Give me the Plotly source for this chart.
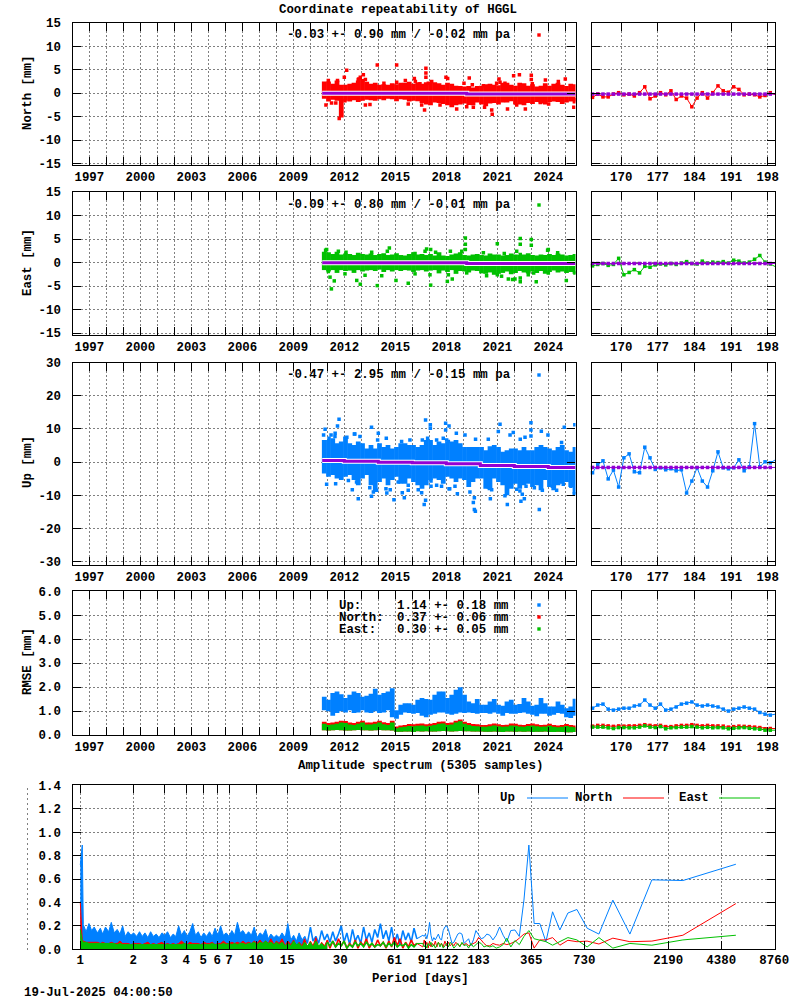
import plotly.graph_objects as go

# time axis
years = list(range(1996, 2026))
year_labels = ["", "1997", "", "", "2000", "", "", "2003", "", "", "2006", "", "", "2009", "", "",
               "2012", "", "", "2015", "", "", "2018", "", "", "2021", "", "", "2024", ""]
doy_ticks = [170, 177, 184, 191, 198]

band_years = [2010.82, 2011.07, 2011.32, 2011.57, 2011.82, 2012.07, 2012.32, 2012.57, 2012.82, 2013.07,
              2013.32, 2013.57, 2013.82, 2014.07, 2014.32, 2014.57, 2014.82, 2015.07, 2015.32, 2015.57,
              2015.82, 2016.07, 2016.32, 2016.57, 2016.82, 2017.07, 2017.32, 2017.57, 2017.82, 2018.07,
              2018.32, 2018.57, 2018.82, 2019.07, 2019.32, 2019.57, 2019.82, 2020.07, 2020.32, 2020.57,
              2020.82, 2021.07, 2021.32, 2021.57, 2021.82, 2022.07, 2022.32, 2022.57, 2022.82, 2023.07,
              2023.32, 2023.57, 2023.82, 2024.07, 2024.32, 2024.57, 2024.82, 2025.07, 2025.32, 2025.57]

# north
north_hi = [2.5, 2.5, 2.0, 2.7, 1.8, 1.8, 2.0, 2.2, 2.7, 3.0,
            2.4, 2.0, 2.2, 1.8, 1.9, 1.8, 2.1, 1.9, 2.2, 2.2,
            2.4, 2.0, 2.3, 2.0, 2.3, 2.2, 2.3, 2.1, 1.8, 2.2,
            2.0, 1.6, 1.5, 1.4, 1.5, 1.2, 1.5, 1.6, 1.9, 2.0,
            1.8, 1.7, 2.2, 2.2, 1.8, 1.6, 2.2, 2.1, 1.6, 1.9,
            1.4, 1.6, 2.1, 1.6, 2.0, 2.2, 1.8, 1.5, 2.0, 1.9]
north_lo = [-1.2, -1.8, -1.4, -1.6, -5.2, -1.6, -1.8, -1.5, -1.9, -1.6,
            -1.4, -1.5, -1.6, -1.3, -1.5, -1.2, -1.3, -1.7, -1.3, -1.4,
            -1.8, -1.6, -1.7, -2.1, -2.4, -2.6, -2.0, -2.1, -2.3, -2.6,
            -3.0, -2.6, -2.4, -2.2, -2.5, -2.6, -2.0, -2.4, -2.8, -2.2,
            -2.1, -2.4, -2.0, -2.0, -1.7, -2.4, -2.4, -2.6, -2.1, -2.3,
            -1.9, -2.2, -2.4, -1.9, -1.8, -1.9, -2.3, -2.0, -1.8, -2.2]
north_out_x = [2010.92, 2011.25, 2011.5, 2011.7, 2012.0, 2012.14, 2012.82, 2012.94, 2013.12, 2013.24,
               2013.24, 2013.94, 2015.08, 2016.12, 2016.18, 2016.8, 2016.8, 2016.8, 2016.72, 2017.14,
               2017.98, 2018.08, 2019.35, 2019.04, 2020.7, 2021.6, 2021.96, 2022.3, 2023.0, 2023.0,
               2023.83, 2025.0, 2025.5, 2022.65, 2021.1, 2020.96, 2019.2, 2020.25,
               2011.06, 2011.6, 2012.86, 2014.33, 2015.08, 2015.59, 2016.45, 2016.94, 2019.53, 2020.18,
               2021.16, 2021.45, 2023.06, 2024.59, 2012.04, 2013.51, 2015.76, 2016.55, 2017.63, 2018.61,
               2019.59, 2020.67, 2022.14, 2023.53, 2024.02, 2025.57]
north_out_y = [-2.5, -2.1, -2.1, -5.4, 3.4, 4.9, 2.9, 3.4, 3.9, 2.9,
               -2.5, 6.0, 6.0, 3.1, 2.5, 5.3, 4.3, 3.4, -3.6, 2.5,
               3.4, 3.1, 3.2, 2.1, -4.5, -3.4, 3.7, 3.9, 3.8, 2.9,
               2.8, 3.0, -3.0, -3.4, 3.0, 2.1, -2.9, -3.0,
               2.7, 2.7, 3.0, 2.1, 2.3, 2.7, 2.0, 2.1, 1.8, 1.6,
               2.3, 2.1, 2.0, 2.5, -1.6, -2.4, -2.3, -2.5, -2.5, -3.4,
               -3.0, -3.6, -2.5, -2.0, -2.3, -1.4]
north_trend_x = [2010.7, 2019.2, 2025.6]
north_trend = [0.0, -0.2, -0.2]

# east
east_hi = [2.3, 2.2, 1.8, 2.3, 1.7, 1.9, 1.8, 1.6, 2.1, 1.8,
           1.7, 1.9, 1.6, 1.8, 2.0, 1.6, 1.7, 2.0, 1.6, 1.5,
           1.8, 2.2, 1.7, 1.8, 1.6, 1.8, 1.5, 2.2, 1.5, 1.4,
           1.7, 1.9, 2.2, 1.6, 1.5, 1.7, 1.8, 1.6, 1.5, 1.9,
           1.7, 1.7, 1.5, 1.6, 1.9, 1.7, 1.6, 1.7, 2.0, 1.6,
           1.5, 1.7, 1.6, 1.8, 1.6, 1.9, 1.7, 1.5, 1.6, 1.8]
east_lo = [-1.6, -1.9, -1.6, -2.2, -1.6, -1.8, -1.7, -2.2, -1.6, -1.9,
           -1.7, -1.6, -1.8, -1.5, -2.0, -1.6, -1.9, -1.6, -1.8, -1.6,
           -1.7, -2.0, -1.7, -1.6, -1.9, -1.7, -1.6, -2.3, -1.7, -2.0,
           -1.6, -2.4, -1.8, -1.9, -2.1, -1.7, -1.8, -2.3, -2.4, -2.1,
           -2.6, -2.4, -2.2, -1.9, -2.5, -2.2, -1.8, -2.1, -2.3, -1.9,
           -2.2, -1.8, -2.4, -2.0, -1.7, -2.1, -1.9, -2.2, -2.0, -2.4]
east_out_x = [2010.96, 2011.16, 2011.41, 2011.24, 2012.73, 2012.94, 2013.94, 2014.65, 2015.04, 2015.76,
              2016.84, 2017.08, 2017.08, 2017.37, 2018.06, 2018.35, 2018.24, 2019.12, 2019.12, 2019.12,
              2021.0, 2022.35, 2022.35, 2022.35, 2022.35, 2022.35, 2023.0, 2023.0, 2023.96, 2023.29,
              2025.06, 2021.9, 2022.04, 2021.0, 2021.25, 2023.14,
              2010.9, 2011.65, 2012.1, 2013.61, 2014.53, 2016.16, 2016.75, 2018.91, 2020.18, 2021.41,
              2022.14, 2024.0, 2024.55, 2011.06, 2012.04, 2013.22, 2014.2, 2016.16, 2017.04, 2018.12,
              2019.2, 2020.37, 2021.65, 2022.82, 2024.0, 2025.57]
east_out_y = [2.8, -3.1, -3.9, -5.6, -3.8, -4.6, -4.9, 3.1, -3.8, -4.4,
              2.9, 2.8, -4.8, 2.2, -4.0, -3.5, 2.4, 5.2, 3.9, 2.8,
              4.0, 5.1, 3.9, 1.7, -3.3, -4.1, 4.9, 3.7, 2.6, -4.1,
              -3.8, -3.6, -3.5, -2.6, -2.9, -2.2,
              2.6, 2.4, 2.2, 2.2, 2.4, 1.9, 2.4, 2.4, 2.1, 1.9,
              2.4, 2.8, 2.1, -1.9, -2.4, -2.7, -2.8, -2.4, -2.6, -2.6,
              -2.2, -2.8, -3.5, -2.6, -2.2, -2.2]
east_trend_x = [2010.7, 2019.2, 2025.6]
east_trend = [-0.05, -0.2, -0.2]

# up
up_hi = [6.7, 6.7, 7.2, 5.7, 6.2, 7.7, 5.7, 5.2, 6.2, 5.7,
         4.1, 5.2, 4.1, 5.7, 4.6, 5.2, 4.1, 4.6, 5.7, 5.7,
         5.2, 5.2, 4.6, 5.2, 6.7, 6.7, 5.2, 6.2, 5.7, 6.2,
         6.2, 6.7, 5.7, 4.6, 4.6, 4.6, 4.6, 4.6, 3.6, 4.8,
         5.2, 4.6, 3.1, 3.6, 4.1, 4.1, 3.6, 4.6, 3.6, 3.6,
         4.6, 5.2, 4.6, 4.1, 3.6, 4.6, 5.2, 3.6, 3.1, 4.6]
up_lo = [-3.4, -4.4, -3.9, -4.9, -5.4, -4.4, -3.9, -5.4, -7.0, -4.9,
         -3.9, -7.0, -9.0, -6.0, -4.9, -7.0, -5.4, -4.4, -6.5, -6.5,
         -4.9, -6.0, -7.0, -8.0, -7.0, -5.4, -4.9, -5.4, -6.5, -4.4,
         -4.9, -6.0, -4.9, -5.4, -7.5, -6.0, -4.9, -4.9, -8.0, -8.5,
         -4.9, -6.0, -7.0, -10.0, -8.0, -6.5, -8.0, -7.0, -6.5, -7.5,
         -7.0, -8.5, -5.4, -7.5, -8.5, -7.0, -6.5, -6.0, -7.5, -9.5]
up_out_x = [2011.69, 2011.6, 2011.46, 2010.87, 2012.82, 2013.6, 2012.59, 2014.0, 2014.47, 2013.6,
            2014.92, 2014.7, 2015.41, 2015.53, 2015.76, 2016.78, 2017.06, 2017.06, 2017.96, 2018.16,
            2017.96, 2016.55, 2016.78, 2016.7, 2017.1, 2018.16, 2021.16, 2022.98, 2024.94, 2025.56,
            2018.59, 2021.94, 2023.59, 2022.35, 2019.65, 2019.71, 2019.59, 2019.65, 2020.59, 2021.59,
            2023.47, 2022.39, 2022.59, 2022.47, 2018.65,
            2010.78, 2011.1, 2011.22, 2011.45, 2012.15, 2012.62, 2012.92, 2013.96, 2015.37, 2015.86,
            2016.59, 2016.9, 2017.43, 2017.82, 2018.12, 2010.96, 2011.49, 2012.24, 2012.47, 2012.72,
            2013.5, 2013.71, 2013.9, 2014.45, 2014.5, 2015.17, 2015.76, 2016.35, 2017.1, 2017.43,
            2017.72, 2018.02, 2019.1, 2019.72, 2020.47, 2021.06, 2021.75, 2022.63, 2022.98, 2022.98,
            2023.98, 2024.78, 2018.2, 2018.51, 2019.39, 2020.47, 2020.67, 2021.45, 2022.14, 2022.33,
            2022.69, 2023.18, 2023.65, 2024.24, 2024.49, 2024.88, 2025.33, 2025.53]
up_out_y = [12.9, 10.9, 8.7, 9.9, -11.0, 10.5, 8.5, 8.7, 7.2, -10.3,
            -11.3, -8.3, -9.2, -10.7, -8.5, 12.7, 11.3, 10.2, 11.7, 10.9,
            9.7, -9.2, -11.5, -12.8, -7.3, -8.0, 11.4, 11.9, 10.5, 11.3,
            8.7, 8.9, 9.3, 6.9, -14.3, -14.8, -12.2, -10.7, -11.0, -12.8,
            -14.3, -11.8, -11.0, -9.7, -9.5,
            8.2, 7.2, 8.2, 7.7, 7.5, 8.5, 7.7, 6.7, 6.2, 6.7,
            6.7, 7.2, 6.7, 7.2, 6.2, -6.7, -6.5, -5.5, -8.3, -6.0,
            -7.7, -9.0, -8.5, -8.0, -9.3, -6.0, -7.0, -8.3, -5.7, -7.0,
            -7.3, 6.7, 8.2, 6.9, 6.9, 9.2, 8.2, 7.5, 9.7, 7.9,
            8.2, 5.9, -8.0, -7.3, -9.0, -7.5, -8.3, -10.1, -8.2, -8.7,
            -7.3, -7.7, -8.5, -7.3, -8.5, -6.7, -7.3, -9.5]
up_trend_x = [2010.7, 2012, 2014, 2016, 2018, 2020, 2022, 2024, 2025.6]
up_trend = [0.5, 0.3, 0.0, -0.2, -0.5, -1.0, -1.3, -1.6, -1.6]

# rmse
rmse_up_hi = [1.60, 1.47, 1.75, 1.82, 1.70, 1.55, 1.68, 1.82, 1.75, 1.60,
              1.64, 1.72, 1.93, 1.68, 1.75, 1.82, 1.95, 1.03, 1.26, 1.33,
              1.33, 1.26, 1.47, 1.54, 1.50, 1.47, 1.68, 1.82, 1.82, 1.54,
              1.68, 1.89, 1.99, 1.68, 1.40, 1.33, 1.50, 1.26, 1.26, 1.40,
              1.50, 1.26, 1.22, 1.40, 1.47, 1.26, 1.29, 1.54, 1.40, 1.22,
              1.26, 1.54, 1.33, 1.19, 1.19, 1.40, 1.26, 1.12, 1.19, 1.51]
rmse_up_lo = [1.03, 0.99, 0.80, 0.92, 0.99, 0.94, 1.03, 0.92, 0.94, 1.03,
              0.94, 0.92, 0.99, 0.92, 0.94, 1.03, 0.74, 0.68, 0.85, 0.94,
              0.92, 0.89, 0.92, 0.80, 0.74, 0.85, 0.89, 0.94, 0.94, 0.89,
              0.85, 0.89, 0.94, 0.92, 0.94, 0.92, 0.89, 0.92, 0.92, 0.89,
              0.94, 0.89, 0.80, 0.92, 0.89, 0.89, 0.92, 0.94, 0.89, 0.85,
              0.78, 0.89, 0.89, 0.80, 0.85, 0.92, 0.89, 0.74, 0.71, 0.80]
rmse_north_hi = [0.55, 0.50, 0.52, 0.55, 0.60, 0.58, 0.52, 0.50, 0.55, 0.60,
                 0.52, 0.52, 0.55, 0.60, 0.53, 0.50, 0.60, 0.35, 0.40, 0.42,
                 0.46, 0.45, 0.47, 0.48, 0.45, 0.47, 0.50, 0.55, 0.56, 0.50,
                 0.52, 0.60, 0.65, 0.55, 0.50, 0.46, 0.45, 0.42, 0.42, 0.45,
                 0.48, 0.45, 0.42, 0.43, 0.48, 0.47, 0.43, 0.42, 0.46, 0.48,
                 0.45, 0.42, 0.43, 0.47, 0.42, 0.40, 0.42, 0.46, 0.42, 0.40]
rmse_east_hi = [0.47, 0.42, 0.44, 0.47, 0.52, 0.50, 0.44, 0.42, 0.47, 0.52,
                0.44, 0.44, 0.47, 0.52, 0.45, 0.42, 0.52, 0.28, 0.32, 0.34,
                0.38, 0.37, 0.39, 0.40, 0.37, 0.39, 0.42, 0.47, 0.48, 0.42,
                0.44, 0.52, 0.57, 0.47, 0.42, 0.38, 0.37, 0.34, 0.34, 0.37,
                0.40, 0.37, 0.34, 0.35, 0.40, 0.39, 0.35, 0.34, 0.38, 0.40,
                0.37, 0.34, 0.35, 0.39, 0.34, 0.32, 0.34, 0.38, 0.34, 0.32]
rmse_east_lo = [0.20, 0.19, 0.20, 0.21, 0.20, 0.19, 0.19, 0.20, 0.21, 0.20,
                0.20, 0.19, 0.20, 0.21, 0.20, 0.20, 0.19, 0.14, 0.14, 0.15,
                0.15, 0.13, 0.16, 0.15, 0.16, 0.15, 0.15, 0.16, 0.17, 0.16,
                0.15, 0.16, 0.17, 0.16, 0.16, 0.15, 0.15, 0.15, 0.14, 0.14,
                0.15, 0.14, 0.13, 0.15, 0.15, 0.14, 0.15, 0.14, 0.15, 0.13,
                0.14, 0.14, 0.15, 0.13, 0.13, 0.14, 0.13, 0.12, 0.12, 0.13]

# last five weeks
days = [164.5, 165.5, 166.5, 167.5, 168.5, 169.5, 170.5, 171.5, 172.5, 173.5, 174.5, 175.5,
        176.5, 177.5, 178.5, 179.5, 180.5, 181.5, 182.5, 183.5, 184.5, 185.5, 186.5, 187.5,
        188.5, 189.5, 190.5, 191.5, 192.5, 193.5, 194.5, 195.5, 196.5, 197.5, 198.5, 199.5]
north_days = [-0.9, -0.2, -0.8, -0.8, -0.2, 0.1, -0.35, -0.2, -0.6, 0.1, 1.35, -1.2,
              -0.6, 0.1, -0.35, 0.5, -1.35, -0.6, -1.05, -2.9, -1.05, 0.1, -1.05, 0.1,
              1.55, 0.5, 0.2, 1.35, 0.8, -0.35, -0.2, -0.35, -0.8, -0.5, 0.1, -0.35]
east_days = [-0.7, -0.4, -0.2, -0.6, -0.4, 0.9, -2.6, -2.1, -1.5, -2.2, -0.8, -1.0,
             -0.5, -0.3, -0.5, -0.2, -0.4, -0.1, 0.2, -0.2, -0.3, 0.3, -0.1, 0.1,
             0.0, 0.2, -0.1, 0.5, 0.3, -0.1, 0.1, 0.7, 1.5, 0.1, -0.3, -0.9]
up_days = [-3.2, -0.8, 0.4, -5.05, -2.4, -7.5, 1.3, 2.5, -2.9, -3.2, 4.5, 1.3,
           -2.2, -1.7, -2.3, -2.0, -2.6, -2.3, -9.3, -5.7, -1.7, -5.7, -7.5, -2.6,
           3.1, -1.7, -2.0, -1.7, 0.7, -2.6, -1.4, 11.6, -1.4, 0.1, -0.2, 0.7]
rmse_up_days = [1.12, 1.25, 1.29, 1.08, 1.04, 1.08, 1.12, 1.12, 1.21, 1.25, 1.46, 1.25,
                1.12, 1.29, 1.04, 1.08, 1.17, 1.29, 1.33, 1.38, 1.25, 1.21, 1.25, 1.21,
                1.17, 1.08, 1.00, 1.08, 1.12, 1.17, 1.12, 1.08, 0.94, 0.87, 0.83, 0.87]
rmse_north_days = [0.37, 0.40, 0.40, 0.38, 0.36, 0.38, 0.37, 0.38, 0.38, 0.40, 0.43, 0.40,
                   0.38, 0.40, 0.35, 0.35, 0.38, 0.40, 0.40, 0.43, 0.40, 0.38, 0.40, 0.38,
                   0.38, 0.37, 0.33, 0.35, 0.37, 0.36, 0.35, 0.33, 0.31, 0.26, 0.27, 0.27]
rmse_east_days = [0.33, 0.33, 0.33, 0.30, 0.27, 0.31, 0.31, 0.30, 0.30, 0.33, 0.38, 0.33,
                  0.31, 0.35, 0.26, 0.30, 0.31, 0.33, 0.33, 0.35, 0.33, 0.30, 0.32, 0.30,
                  0.31, 0.30, 0.26, 0.28, 0.30, 0.31, 0.28, 0.26, 0.24, 0.20, 0.20, 0.20]

# spectrum
n_samples = 5305
spike_period = [1.0, 1.026]
spike_up = [0.72, 0.89]
spike_north = [0.40, 0.08]
spike_east = [0.17, 0.07]
dense_period = [1.04, 1.08, 1.12, 1.16, 1.20, 1.25, 1.30, 1.34, 1.39, 1.45,
                1.50, 1.56, 1.62, 1.68, 1.74, 1.80, 1.87, 1.94, 2.01, 2.09,
                2.17, 2.25, 2.33, 2.42, 2.51, 2.60, 2.70, 2.80, 2.91, 3.02,
                3.13, 3.25, 3.37, 3.49, 3.62, 3.76, 3.90, 4.04, 4.19, 4.35,
                4.51, 4.68, 4.85, 5.03, 5.22, 5.42, 5.62, 5.83, 6.05, 6.27,
                6.50, 6.75, 7.00, 7.26, 7.53, 7.81, 8.10, 8.40, 8.72, 9.04,
                9.38, 9.73, 10.1, 10.5, 10.9, 11.3, 11.7, 12.1, 12.6, 13.0,
                13.5, 14.0, 14.6, 15.1, 15.7, 16.3, 16.9, 17.5, 18.2, 18.8,
                19.5, 20.3, 21.0, 21.8, 22.6, 23.5, 24.4, 25.3, 26.2, 27.2,
                28.2, 29.3, 30.4, 31.5, 32.7, 33.9, 35.2, 36.5, 37.8, 39.2,
                40.7, 42.2, 43.8, 45.4, 47.1, 48.9, 50.7, 52.6, 54.6, 56.6,
                58.7, 60.9, 63.2, 65.5, 68.0, 70.5, 73.2, 75.9, 78.7, 81.7]
dense_up = [.21, .15, .22, .16, .19, .14, .18, .13, .19, .15,
            .23, .14, .17, .13, .20, .11, .15, .12, .14, .11,
            .15, .11, .14, .10, .15, .11, .13, .10, .14, .12,
            .15, .10, .13, .11, .20, .12, .16, .11, .15, .22,
            .12, .15, .10, .14, .11, .15, .11, .18, .12, .20,
            .12, .14, .11, .16, .12, .23, .14, .16, .12, .15,
            .12, .19, .10, .14, .12, .17, .09, .13, .10, .12,
            .10, .14, .10, .22, .08, .12, .07, .14, .08, .11,
            .05, .19, .07, .11, .05, .16, .08, .13, .06, .15,
            .07, .13, .20, .06, .14, .04, .17, .07, .12, .05,
            .19, .08, .14, .06, .17, .10, .22, .09, .16, .07,
            .19, .05, .13, .04, .16, .08, .14, .06, .18, .09]
dense_north = [.07, .06, .06, .06, .06, .06, .05, .06, .05, .05,
               .06, .05, .05, .07, .05, .05, .05, .04, .05, .05,
               .05, .04, .05, .06, .04, .05, .04, .05, .06, .04,
               .05, .04, .05, .04, .05, .07, .05, .04, .06, .05,
               .05, .05, .04, .06, .05, .05, .06, .04, .05, .05,
               .07, .05, .05, .06, .05, .06, .05, .07, .05, .06,
               .05, .07, .05, .08, .05, .07, .05, .09, .04, .07,
               .05, .09, .03, .07, .04, .08, .02, .06, .03, .09,
               .02, .07, .03, .10, .01, .06, .03, .08, .01, .07,
               .02, .09, .03, .07, .01, .05, .02, .08, .01, .06,
               .03, .09, .01, .05, .02, .08, .03, .06, .01, .07,
               .02, .10, .03, .09, .01, .06, .02, .08, .03, .05]
dense_east = [.06, .06, .05, .05, .05, .05, .05, .05, .05, .05,
              .05, .05, .04, .05, .04, .04, .04, .04, .04, .04,
              .04, .04, .04, .04, .04, .04, .04, .04, .04, .04,
              .04, .04, .04, .04, .04, .04, .05, .04, .04, .04,
              .04, .04, .04, .04, .04, .04, .05, .04, .04, .04,
              .05, .04, .05, .04, .05, .04, .05, .05, .04, .05,
              .05, .06, .04, .06, .05, .07, .05, .06, .04, .06,
              .04, .06, .03, .05, .03, .07, .04, .05, .02, .06,
              .03, .06, .02, .07, .03, .05, .02, .06, .03, .07,
              .02, .05, .03, .07, .01, .04, .02, .06, .03, .05,
              .02, .06, .03, .05, .02, .04, .03, .06, .02, .05,
              .03, .06, .02, .04, .03, .05, .01, .04, .02, .05]

# harmonics k = 1..60 of the series
harm_up = [.726, .587, .593, .13, .42, .13, .18, .34, .31, .165,
           .32, .065, .22, .22, .89, .42, .11, .165, .16, .065,
           .12, .19, .12, .08, .12, .13, .10, .09, .13, .16,
           .08, .03, .09, .07, .05, .13, .14, .13, .10, .06,
           .05, .11, .17, .20, .19, .16, .08, .09, .13, .11,
           .08, .10, .07, .12, .23, .14, .09, .13, .11, .12]
harm_north = [.39, .12, .07, .065, .095, .045, .07, .065, .077, .035,
              .10, .08, .08, .01, .14, .13, .095, .065, .05, .04,
              .05, .035, .04, .05, .03, .03, .05, .08, .10, .06,
              .05, .04, .03, .05, .04, .05, .03, .04, .06, .03,
              .05, .03, .06, .03, .07, .02, .05, .04, .06, .02,
              .07, .03, .05, .02, .07, .01, .06, .03, .08, .02]
harm_east = [.12, .08, .035, .05, .01, .10, .02, .08, .10, .065,
             .035, .065, .08, .09, .16, .11, .04, .075, .02, .095,
             .04, .02, .01, .03, .02, .03, .02, .05, .06, .04,
             .02, .05, .01, .04, .03, .06, .02, .05, .03, .01,
             .04, .06, .02, .05, .03, .01, .05, .02, .06, .03,
             .01, .04, .02, .06, .03, .05, .01, .04, .02, .05]

spec_ticks = [1, 2, 3, 4, 5, 6, 7, 10, 15, 30, 61, 91, 122, 183, 365, 730, 2190, 4380, 8760]

BLUE = "#0080ff"
RED = "#ff0000"
GREEN = "#00c000"
PURPLE = "#9400d3"
GRID = "#808080"
FONT = dict(family="Liberation Mono", size=12.4, color="black", weight="bold")

W = 800
H = 1000


def xdom(a, b):
    return [a / W, b / W]


def ydom(top, bottom):
    return [1 - bottom / H, 1 - top / H]


def axis_style(**kw):
    base = dict(showline=True, linecolor="black", linewidth=1.2, mirror="ticks", ticks="inside",
                ticklen=8, tickwidth=1, tickcolor="black", showgrid=True, gridcolor=GRID,
                griddash="2px,2px", gridwidth=1, zeroline=False, tickfont=FONT, tickmode="array")
    base.update(kw)
    return base


fig = go.Figure()


def add_band(n, x, lo, hi, color):
    fig.add_trace(go.Bar(x=x, y=[h - l for h, l in zip(hi, lo)], base=lo, width=0.28,
                         marker=dict(color=color, line_width=0), xaxis=f"x{n}", yaxis=f"y{n}"))


def add_points(n, x, y, color, mode="markers", clip=True):
    fig.add_trace(go.Scatter(x=x, y=y, mode=mode, cliponaxis=clip,
                             marker=dict(symbol="square", size=3.5, color=color, line_width=0),
                             line=dict(color=color, width=1), xaxis=f"x{n}", yaxis=f"y{n}"))


def add_trend(n, x, y):
    fig.add_trace(go.Scatter(x=x, y=y, mode="lines", line=dict(color="white", width=5, shape="hv"),
                             xaxis=f"x{n}", yaxis=f"y{n}"))
    fig.add_trace(go.Scatter(x=x, y=y, mode="lines", line=dict(color=PURPLE, width=3, shape="hv"),
                             xaxis=f"x{n}", yaxis=f"y{n}"))


# coordinate panels
add_band(1, band_years, north_lo, north_hi, RED)
add_points(1, north_out_x, north_out_y, RED)
add_trend(1, north_trend_x, north_trend)
add_points(2, days, north_days, RED, "lines+markers", False)
add_points(2, days, [north_trend[-1]] * len(days), PURPLE, "lines+markers", False)

add_band(3, band_years, east_lo, east_hi, GREEN)
add_points(3, east_out_x, east_out_y, GREEN)
add_trend(3, east_trend_x, east_trend)
add_points(4, days, east_days, GREEN, "lines+markers", False)
add_points(4, days, [east_trend[-1]] * len(days), PURPLE, "lines+markers", False)

add_band(5, band_years, up_lo, up_hi, BLUE)
add_points(5, up_out_x, up_out_y, BLUE)
add_trend(5, up_trend_x, up_trend)
add_points(6, days, up_days, BLUE, "lines+markers", False)
add_points(6, days, [up_trend[-1]] * len(days), PURPLE, "lines+markers", False)

# rmse panels
add_band(7, band_years, rmse_up_lo, rmse_up_hi, BLUE)
add_band(7, band_years, rmse_east_lo, rmse_north_hi, RED)
add_band(7, band_years, rmse_east_lo, rmse_east_hi, GREEN)
add_points(8, days, rmse_up_days, BLUE, "lines+markers", False)
add_points(8, days, rmse_north_days, RED, "lines+markers", False)
add_points(8, days, rmse_east_days, GREEN, "lines+markers", False)

# spectrum, solid at short periods where the spikes run together
harm_period = [n_samples / k for k in range(60, 0, -1)]
spec_period = spike_period + dense_period + harm_period
n_fill = len(spike_period) + 80
n_dense = len(spike_period) + len(dense_period)
for series, color, fill_to in [(spike_up + dense_up + harm_up[::-1], BLUE, n_fill),
                               (spike_north + dense_north + harm_north[::-1], RED, n_fill + 8),
                               (spike_east + dense_east + harm_east[::-1], GREEN, n_fill + 8)]:
    fig.add_trace(go.Scatter(x=spec_period[:fill_to], y=series[:fill_to], mode="lines", fill="tozeroy",
                             fillcolor=color, line=dict(color=color, width=1), xaxis="x9", yaxis="y9"))
    fig.add_trace(go.Scatter(x=spec_period[fill_to - 1:n_dense], y=series[fill_to - 1:n_dense], mode="lines",
                             line=dict(color=color, width=1.6), xaxis="x9", yaxis="y9"))
    fig.add_trace(go.Scatter(x=spec_period[n_dense - 1:], y=series[n_dense - 1:], mode="lines",
                             line=dict(color=color, width=1), xaxis="x9", yaxis="y9"))

layout = dict(width=W, height=H, margin=dict(l=0, r=0, t=0, b=0, autoexpand=False), autosize=False,
              showlegend=False, paper_bgcolor="white", plot_bgcolor="white", barmode="overlay", font=FONT)

# top, bottom, y range, y ticks, y labels
rows = [
    (22.7, 165, [-15.3, 15], [-15, -10, -5, 0, 5, 10, 15], ["-15", "-10", "-5", "0", "5", "10", "15"]),
    (192, 335, [-15.4, 15], [-15, -10, -5, 0, 5, 10, 15], ["-15", "-10", "-5", "0", "5", "10", "15"]),
    (362.6, 565, [-31, 30], [-30, -20, -10, 0, 10, 20, 30], ["-30", "-20", "-10", "0", "10", "20", "30"]),
    (591.3, 735, [0, 6], [0, 1, 2, 3, 4, 5, 6], ["0.0", "1.0", "2.0", "3.0", "4.0", "5.0", "6.0"]),
]
for i, (top, bottom, yrange, yticks, ylabels) in enumerate(rows):
    left = 2 * i + 1
    right = 2 * i + 2
    layout[f"xaxis{left}"] = axis_style(domain=xdom(72.5, 575.5), range=[1996.01, 2025.6], tickvals=years,
                                        ticktext=year_labels, ticklabelstandoff=0, anchor=f"y{left}")
    layout[f"yaxis{left}"] = axis_style(domain=ydom(top, bottom), range=yrange, tickvals=yticks,
                                        ticktext=ylabels, ticklabelstandoff=8, anchor=f"x{left}")
    layout[f"xaxis{right}"] = axis_style(domain=xdom(592.3, 775.3), range=[164.46, 199.46], tickvals=doy_ticks,
                                         ticktext=[str(d) for d in doy_ticks], ticklabelstandoff=0,
                                         anchor=f"y{right}")
    layout[f"yaxis{right}"] = axis_style(domain=ydom(top, bottom), range=yrange, tickvals=yticks,
                                         showticklabels=False, anchor=f"x{right}")

layout["xaxis9"] = axis_style(domain=xdom(72.5, 775), type="log", range=[-0.0443, 3.947], tickvals=spec_ticks,
                              ticktext=[str(p) for p in spec_ticks], ticklabelstandoff=-1, anchor="y9")
layout["yaxis9"] = axis_style(domain=ydom(785.3, 949.3), range=[0, 1.4], tickvals=[0, 0.2, 0.4, 0.6, 0.8, 1.0, 1.2, 1.4],
                              ticktext=["0.0", "0.2", "0.4", "0.6", "0.8", "1.0", "1.2", "1.4"],
                              ticklabelstandoff=8, anchor="x9")


def label(x, y, text, anchor="left", angle=0, **kw):
    return dict(xref="paper", yref="paper", x=x / W, y=1 - y / H, text=text, showarrow=False, font=FONT,
                xanchor=anchor, yanchor="middle", textangle=angle, align="left", **kw)


layout["annotations"] = [
    label(398, 10, "Coordinate repeatability of HGGL", "center"),
    label(285, 35, "-0.03 +- 0.90 mm / -0.02 mm pa"),
    label(285, 205, "-0.09 +- 0.80 mm / -0.01 mm pa"),
    label(285, 375, "-0.47 +- 2.95 mm / -0.15 mm pa"),
    label(338, 605, "Up:", height=11, borderpad=0), label(338, 617, "North:", height=11, borderpad=0),
    label(338, 629, "East:", height=11, borderpad=0),
    label(396, 605, "1.14 +- 0.18 mm", height=11, borderpad=0),
    label(396, 617, "0.37 +- 0.06 mm", height=11, borderpad=0),
    label(396, 629, "0.30 +- 0.05 mm", height=11, borderpad=0),
    label(420, 766, "Amplitude spectrum (5305 samples)", "center"),
    label(498, 798, "Up"), label(573, 798, "North"), label(677, 798, "East"),
    label(420, 979, "Period [days]", "center"),
    label(22, 993, "19-Jul-2025 04:00:50"),
    label(28, 93, "North [mm]", "center", -90),
    label(28, 263, "East [mm]", "center", -90),
    label(28, 462, "Up [mm]", "center", -90),
    label(28, 662, "RMSE [mm]", "center", -90),
]


def swatch(x, y, color):
    return dict(type="rect", xref="paper", yref="paper", x0=(x - 1.7) / W, x1=(x + 1.7) / W,
                y0=1 - (y + 1.7) / H, y1=1 - (y - 1.7) / H, fillcolor=color, line_width=0)


def key_line(x0, x1, y, color):
    return dict(type="line", xref="paper", yref="paper", x0=x0 / W, x1=x1 / W, y0=1 - y / H, y1=1 - y / H,
                line=dict(color=color, width=1))


layout["shapes"] = [
    swatch(539, 35, RED), swatch(539, 205, GREEN), swatch(539, 375, BLUE),
    swatch(539, 605, BLUE), swatch(539, 617, RED), swatch(539, 629, GREEN),
    key_line(527, 568, 798, BLUE), key_line(623, 664, 798, RED), key_line(719, 760, 798, GREEN),
    dict(type="line", xref="paper", yref="paper", x0=27.5 / W, x1=27.5 / W, y0=1 - 950 / H, y1=1 - 788 / H,
         line=dict(color=GRID, width=1, dash="2px,3px")),
]

fig.update_layout(**layout)
fig.write_html("out.html", post_script="document.body.style.margin='0'",
               config={"displayModeBar": False})
